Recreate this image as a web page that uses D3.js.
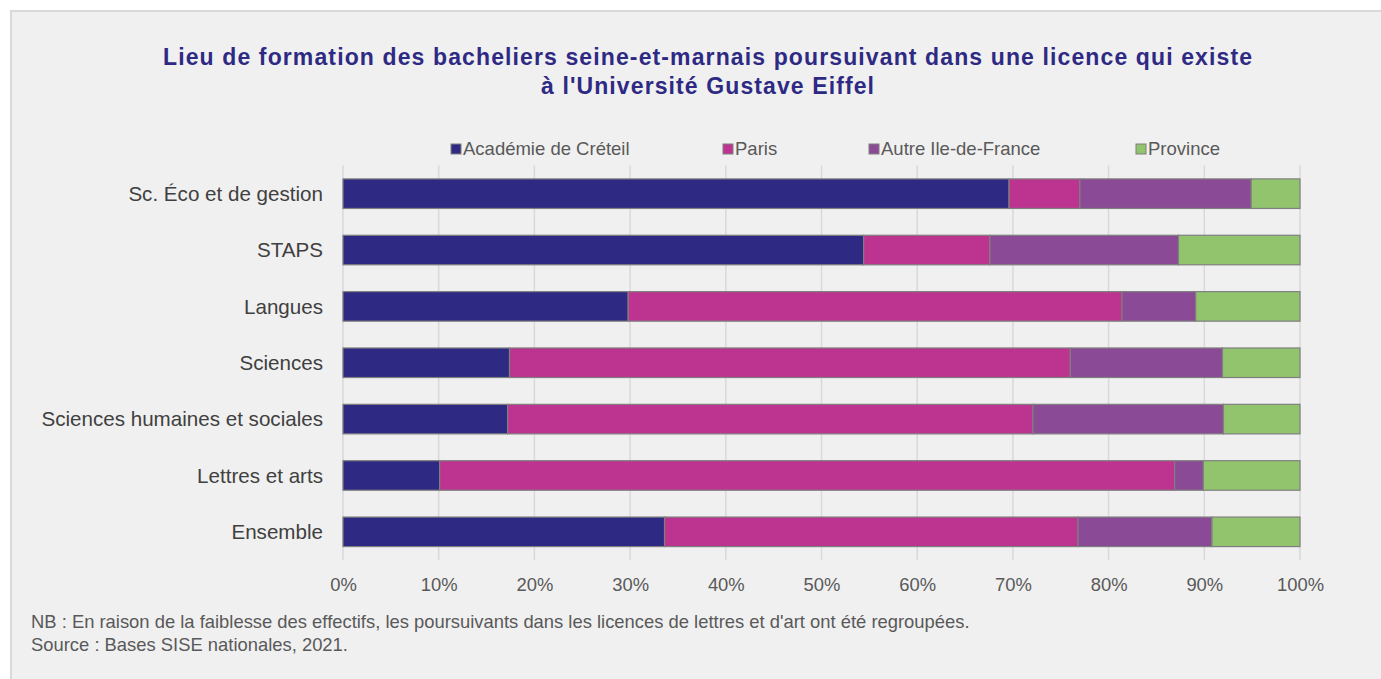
<!DOCTYPE html>
<html lang="fr">
<head>
<meta charset="UTF-8">
<title>Lieu de formation des bacheliers seine-et-marnais</title>
<script src="https://d3js.org/d3.v7.min.js"></script>
<style>
    body { margin: 0; background: #fff; }
    svg { display: block; font-family: "Liberation Sans", Arial, sans-serif; }
    .title { font-weight: bold; font-size: 23px; fill: #2e2a84; }
    .legend text { font-size: 18.5px; fill: #595959; }
    .cat { font-size: 20.6px; fill: #404040; }
    .x.axis text { font-size: 18.4px; fill: #595959; }
    .x.axis path, .x.axis line { display: none; }
    .grid line { stroke: #d9d9d9; stroke-width: 1.5; }
    .note { font-size: 18.4px; fill: #595959; }
</style>
</head>
<body>
<script>
// categories, top to bottom
var categories = ["Sc. Éco et de gestion", "STAPS", "Langues", "Sciences",
    "Sciences humaines et sociales", "Lettres et arts", "Ensemble"];
var seriesNames = ["Académie de Créteil", "Paris", "Autre Ile-de-France", "Province"];
var creteil  = [69.6, 54.4, 29.8, 17.4, 17.2, 10.1, 33.6];
var paris    = [ 7.4, 13.2, 51.6, 58.6, 54.9, 76.8, 43.2];
var autreIdf = [17.9, 19.7,  7.7, 15.9, 19.9,  3.0, 14.0];
var province = [ 5.1, 12.7, 10.9,  8.1,  8.0, 10.1,  9.2];
var tickValues = [0, 10, 20, 30, 40, 50, 60, 70, 80, 90, 100];
var titleLines = ["Lieu de formation des bacheliers seine-et-marnais poursuivant dans une licence qui existe",
    "à l'Université Gustave Eiffel"];
var notes = ["NB : En raison de la faiblesse des effectifs, les poursuivants dans les licences de lettres et d'art ont été regroupées.",
    "Source : Bases SISE nationales, 2021."];
var colors = ["#2e2a84", "#bc3490", "#8a4a95", "#92c46e"];

var W = 1381, H = 679;
var margin = {top: 165.5, left: 343, right: 81, bottom: 119};

var svg = d3.select("body").append("svg")
    .attr("width", W)
    .attr("height", H);

// panel background
svg.append("rect")
    .attr("x", 11).attr("y", 11)
    .attr("width", W + 10).attr("height", H + 10)
    .attr("fill", "#f0f0f0")
    .attr("stroke", "#d9d9d9")
    .attr("stroke-width", 2);

// title (original face is wider than Arial, stretch spacing to its width)
var titleWidths = [1089, 333];
svg.append("g")
    .selectAll("text")
    .data(titleLines)
    .enter().append("text")
    .attr("class", "title")
    .attr("text-anchor", "middle")
    .attr("x", 707.5)
    .attr("y", function(d, i) { return 65 + i * 29; })
    .attr("textLength", function(d, i) { return titleWidths[i]; })
    .attr("lengthAdjust", "spacing")
    .text(function(d) { return d; });

var rows = categories.map(function(c, i) {
    return {cat: c, "0": creteil[i], "1": paris[i], "2": autreIdf[i], "3": province[i]};
});
var stacked = d3.stack().keys(["0", "1", "2", "3"])(rows);

var xScale = d3.scaleLinear()
    .domain([0, 100])
    .range([margin.left, W - margin.right]);

var yScale = d3.scaleBand()
    .domain(categories)
    .range([margin.top, H - margin.bottom])
    .paddingInner(0.476)
    .paddingOuter(0.238);

// vertical gridlines
svg.append("g")
    .attr("class", "grid")
    .selectAll("line")
    .data(tickValues)
    .enter().append("line")
    .attr("x1", function(d) { return xScale(d); })
    .attr("x2", function(d) { return xScale(d); })
    .attr("y1", margin.top)
    .attr("y2", H - margin.bottom);

// bars
svg.append("g")
    .selectAll("g")
    .data(stacked)
    .enter().append("g")
    .attr("fill", function(d, i) { return colors[i]; })
    .selectAll("rect")
    .data(function(d) { return d; })
    .enter().append("rect")
    .attr("x", function(d) { return xScale(d[0]); })
    .attr("width", function(d) { return xScale(d[1]) - xScale(d[0]); })
    .attr("y", function(d) { return yScale(d.data.cat); })
    .attr("height", yScale.bandwidth())
    .attr("stroke", "#7f7f7f")
    .attr("stroke-width", 1.2);

// category labels
svg.append("g")
    .selectAll("text")
    .data(categories)
    .enter().append("text")
    .attr("class", "cat")
    .attr("text-anchor", "end")
    .attr("x", 323)
    .attr("y", function(d) { return yScale(d) + yScale.bandwidth() / 2; })
    .attr("dy", "0.35em")
    .text(function(d) { return d; });

// x axis
svg.append("g")
    .attr("class", "x axis")
    .attr("transform", "translate(0," + (H - margin.bottom) + ")")
    .call(d3.axisBottom(xScale)
        .tickValues(tickValues)
        .tickSize(0)
        .tickPadding(18)
        .tickFormat(function(d) { return d + "%"; }));

// legend
var legendX = [451, 723, 869, 1136];
var legend = svg.append("g")
    .attr("class", "legend")
    .selectAll("g")
    .data(seriesNames)
    .enter().append("g")
    .attr("transform", function(d, i) { return "translate(" + legendX[i] + ",149)"; });
legend.append("rect")
    .attr("x", 0).attr("y", -5)
    .attr("width", 10).attr("height", 10)
    .attr("fill", function(d, i) { return colors[i]; })
    .attr("stroke", "#7f7f7f")
    .attr("stroke-width", 1);
legend.append("text")
    .attr("x", 12)
    .attr("dy", "0.35em")
    .text(function(d) { return d; });

// notes
svg.append("g")
    .selectAll("text")
    .data(notes)
    .enter().append("text")
    .attr("class", "note")
    .attr("x", 31)
    .attr("y", function(d, i) { return 628 + i * 23; })
    .text(function(d) { return d; });
</script>
</body>
</html>
